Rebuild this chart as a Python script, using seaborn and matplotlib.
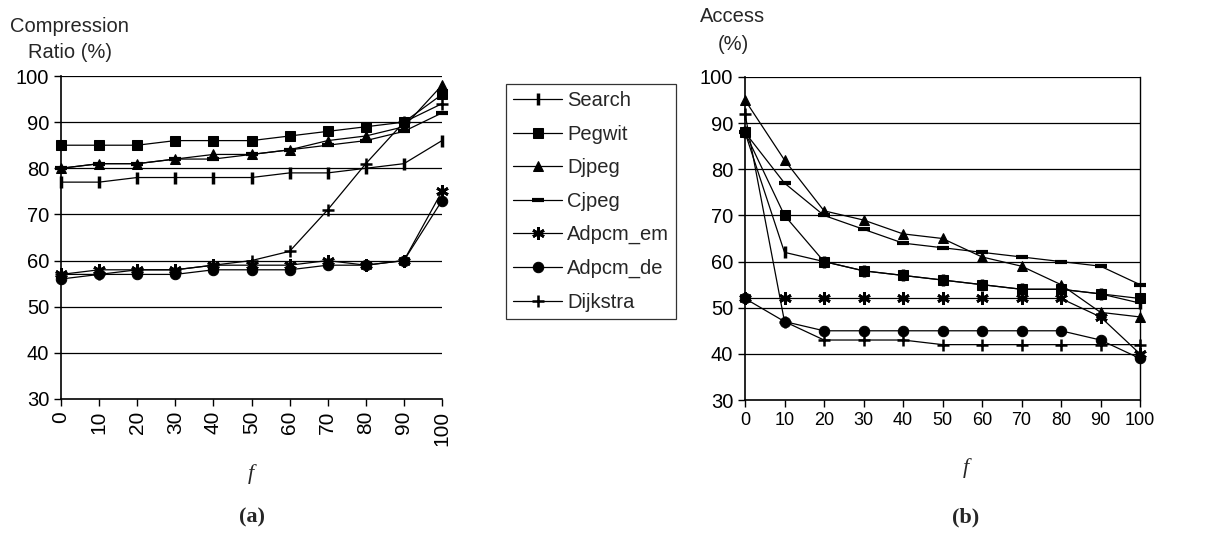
import numpy as np
import pandas as pd
import matplotlib
matplotlib.use('Agg')
import matplotlib.pyplot as plt
from matplotlib import font_manager
import seaborn as sns

f_values = [0, 10, 20, 30, 40, 50, 60, 70, 80, 90, 100]
benchmarks = ['Search', 'Pegwit', 'Djpeg', 'Cjpeg', 'Adpcm_em', 'Adpcm_de', 'Dijkstra']

# (a) compression ratio (%)
ratio_search = [77, 77, 78, 78, 78, 78, 79, 79, 80, 81, 86]
ratio_pegwit = [85, 85, 85, 86, 86, 86, 87, 88, 89, 90, 96]
ratio_djpeg = [80, 81, 81, 82, 83, 83, 84, 86, 87, 89, 98]
ratio_cjpeg = [80, 81, 81, 82, 82, 83, 84, 85, 86, 88, 92]
ratio_adpcm_em = [57, 58, 58, 58, 59, 59, 59, 60, 59, 60, 75]
ratio_adpcm_de = [56, 57, 57, 57, 58, 58, 58, 59, 59, 60, 73]
ratio_dijkstra = [57, 57, 58, 58, 59, 60, 62, 71, 81, 90, 94]

# (b) access (%)
access_search = [88, 62, 60, 58, 57, 56, 55, 54, 54, 53, 51]
access_pegwit = [88, 70, 60, 58, 57, 56, 55, 54, 54, 53, 52]
access_djpeg = [95, 82, 71, 69, 66, 65, 61, 59, 55, 49, 48]
access_cjpeg = [88, 77, 70, 67, 64, 63, 62, 61, 60, 59, 55]
access_adpcm_em = [52, 52, 52, 52, 52, 52, 52, 52, 52, 48, 40]
access_adpcm_de = [52, 47, 45, 45, 45, 45, 45, 45, 45, 43, 39]
access_dijkstra = [92, 47, 43, 43, 43, 42, 42, 42, 42, 42, 42]

ratio = [ratio_search, ratio_pegwit, ratio_djpeg, ratio_cjpeg,
         ratio_adpcm_em, ratio_adpcm_de, ratio_dijkstra]
access = [access_search, access_pegwit, access_djpeg, access_cjpeg,
          access_adpcm_em, access_adpcm_de, access_dijkstra]

marker_style = {
    'Search': dict(marker='|', markersize=9, markeredgewidth=2.5),
    'Pegwit': dict(marker='s', markersize=7.5),
    'Djpeg': dict(marker='^', markersize=7.5),
    'Cjpeg': dict(marker='_', markersize=9, markeredgewidth=3),
    'Adpcm_em': dict(marker=(6, 2, 0), markersize=9, markeredgewidth=2),
    'Adpcm_de': dict(marker='o', markersize=7.5),
    'Dijkstra': dict(marker='+', markersize=9, markeredgewidth=1.8),
}

sns.set_style('white')
plt.rcParams['font.family'] = ['Liberation Sans', 'DejaVu Sans']

# narrow face for the condensed x labels of panel (b), if it is there
installed = {f.name for f in font_manager.fontManager.ttflist}
narrow = 'Liberation Sans Narrow' if 'Liberation Sans Narrow' in installed else 'Liberation Sans'
narrow_size = 16 if narrow == 'Liberation Sans Narrow' else 13

fig = plt.figure(figsize=(12.16, 5.38), dpi=100)
ax_a = fig.add_axes([61 / 1216, 1 - 399 / 538, (442 - 61) / 1216, (399 - 76) / 538])
ax_b = fig.add_axes([745 / 1216, 1 - 400 / 538, (1140 - 745) / 1216, (400 - 77) / 538])

def draw(ax, data):
    handles = []
    for name, vals in zip(benchmarks, data):
        df = pd.DataFrame({'f': f_values, 'v': vals})
        sns.lineplot(data=df, x='f', y='v', ax=ax, color='black', linewidth=0.9,
                     markerfacecolor='black', markeredgecolor='black',
                     clip_on=False, zorder=3, **marker_style[name])
        handles.append(ax.lines[-1])
    ax.set_xlim(0, 100)
    ax.set_ylim(30, 100)
    ax.set_yticks(range(30, 101, 10))
    ax.set_xticks(f_values)
    ax.set_xlabel('')
    ax.set_ylabel('')
    for y in range(40, 101, 10):
        ax.axhline(y, color='black', linewidth=0.9, zorder=1)
    for s in ['left', 'bottom']:
        ax.spines[s].set_color('black')
        ax.spines[s].set_linewidth(1.2)
    ax.spines['top'].set_visible(False)
    ax.tick_params(axis='both', direction='out', length=5, width=1,
                   color='black', labelsize=14.5, labelcolor='black',
                   left=True, bottom=True)
    return handles

handles = draw(ax_a, ratio)
ax_a.spines['right'].set_visible(False)
ax_a.tick_params(axis='x', labelrotation=90, labelsize=15)

draw(ax_b, access)
ax_b.spines['right'].set_color('black')
ax_b.spines['right'].set_linewidth(1)
for lab in ax_b.get_xticklabels():
    lab.set_family(narrow)
    lab.set_fontsize(narrow_size)

leg = fig.legend(handles, benchmarks, loc='upper left',
                 bbox_to_anchor=(506 / 1216, 1 - 84 / 538), frameon=True,
                 fancybox=False, edgecolor='black', fontsize=14.5,
                 handlelength=2.45, labelspacing=0.72, borderpad=0.35,
                 handletextpad=0.25, borderaxespad=0)
leg.get_frame().set_linewidth(0.9)

fig.text(10 / 1216, 1 - 27 / 538, 'Compression', fontsize=14.5, va='center', ha='left')
fig.text(28 / 1216, 1 - 53 / 538, 'Ratio (%)', fontsize=14.5, va='center', ha='left')
fig.text(700 / 1216, 1 - 16 / 538, 'Access', fontsize=14.5, va='center', ha='left')
fig.text(718 / 1216, 1 - 44 / 538, '(%)', fontsize=14.5, va='center', ha='left')

fig.text(251 / 1216, 1 - 474 / 538, 'f', family='Liberation Serif', style='italic',
         fontsize=16, ha='center', va='center')
fig.text(966 / 1216, 1 - 468 / 538, 'f', family='Liberation Serif', style='italic',
         fontsize=16, ha='center', va='center')
fig.text(252 / 1216, 1 - 517 / 538, '(a)', family='Liberation Serif', weight='bold',
         fontsize=16, ha='center', va='center')
fig.text(966 / 1216, 1 - 517 / 538, '(b)', family='Liberation Serif', weight='bold',
         fontsize=16, ha='center', va='center')

fig.savefig('out.png', dpi=100)
